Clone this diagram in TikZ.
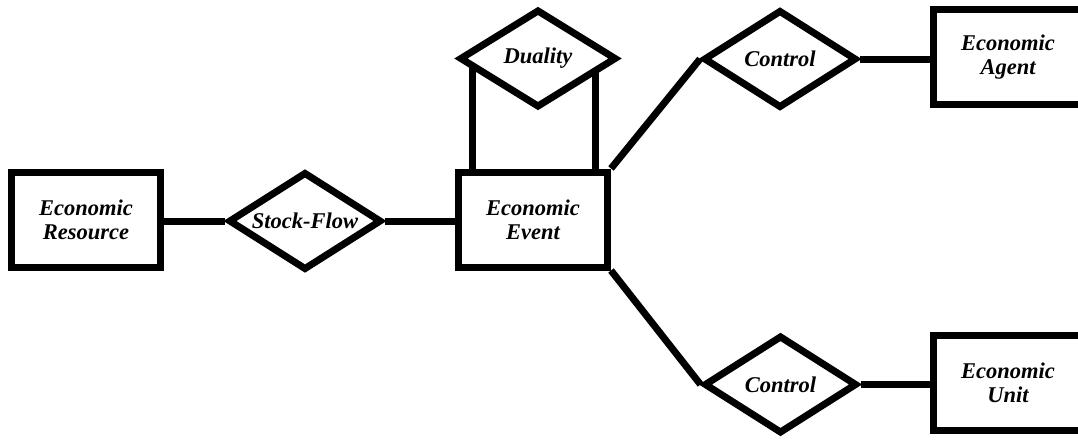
\documentclass[tikz,border=0pt]{standalone}
\usepackage{fontspec}
\setmainfont{Liberation Serif}
\usetikzlibrary{shapes.geometric}
\usetikzlibrary{backgrounds}
\tikzstyle{entity} = [draw,line width=7pt,fill=white,minimum width=149pt,minimum height=95pt,align=center,font=\fontsize{22.5}{24}\selectfont\bfseries\itshape]
\tikzstyle{relation} = [diamond,draw,line width=7pt,fill=white,aspect=1.6,inner sep=0pt,minimum width=153pt,minimum height=98pt,font=\fontsize{22.5}{24}\selectfont\bfseries\itshape]
\tikzstyle{link} = [line width=7pt]
\begin{document}
\begin{tikzpicture}[x=1pt,y=-1pt]
\useasboundingbox (0,0) rectangle (1078,442);

\node[entity] (resource) at (86,219.5) {Economic\\Resource};
\node[relation] (stockflow) at (305,221) {Stock-Flow};
\node[entity] (event) at (533,219.5) {Economic\\Event};
\node[relation,minimum width=157pt] (duality) at (538,58.5) {Duality};
\node[relation] (controlA) at (780,59) {Control};
\node[entity] (agent) at (1008,57) {Economic\\Agent};
\node[relation] (controlU) at (780.5,384.5) {Control};
\node[entity] (unit) at (1008,383) {Economic\\Unit};

\begin{pgfonlayer}{background}
\draw[link] (resource.east |- stockflow.west) -- (stockflow.west);
\draw[link] (stockflow.east) -- (stockflow.east -| event.west);
\draw[link] ([xshift=17pt]event.north west) -- ([xshift=17pt]event.north west |- duality.west);
\draw[link] ([xshift=-16pt]event.north east) -- ([xshift=-16pt]event.north east |- duality.west);
\draw[link] (event.north east) -- (controlA.west);
\draw[link] (event.south east) -- (controlU.west);
\draw[link] (controlA.east) -- (controlA.east -| agent.west);
\draw[link] (controlU.east) -- (controlU.east -| unit.west);
\end{pgfonlayer}
\end{tikzpicture}
\end{document}
